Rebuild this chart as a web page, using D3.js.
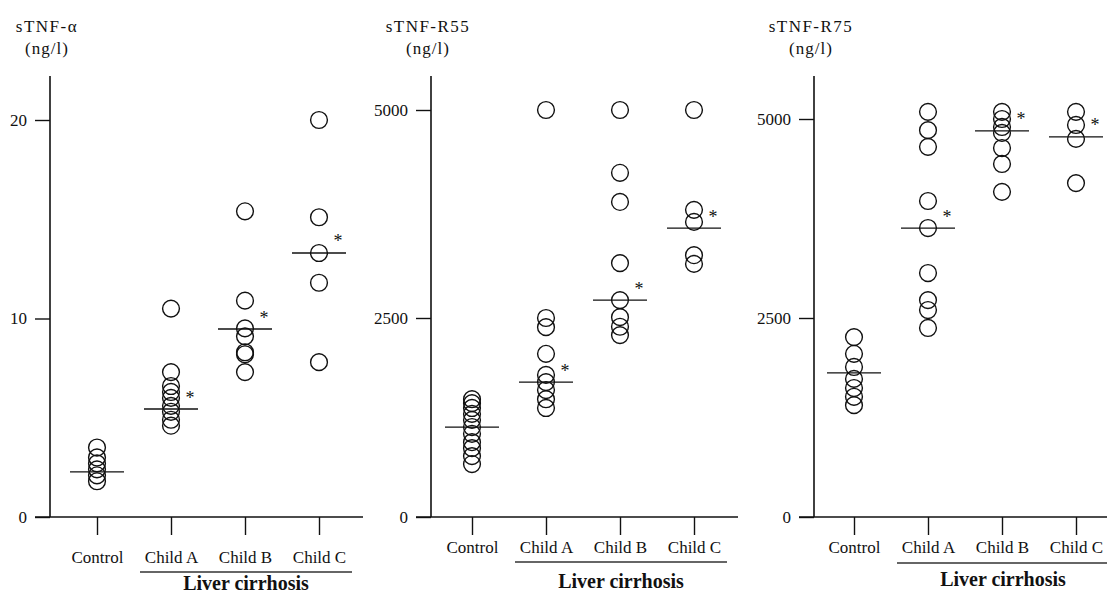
<!DOCTYPE html>
<html>
<head>
<meta charset="utf-8">
<script src="https://cdn.jsdelivr.net/npm/d3@7"></script>
<style>
  body { margin: 0; background: #fff; }
  svg text { font-family: "Liberation Serif", "DejaVu Serif", serif; fill: #111; }
</style>
</head>
<body>
<script>
var width = 1107,
	height = 593;

// groups on the x axis
var categories = ["Control", "Child A", "Child B", "Child C"];

// sTNF-alpha (ng/l)
var tnfControl = [3.5, 3.0, 2.7, 2.4, 2.1, 1.8],
	tnfChildA = [10.5, 7.3, 6.6, 6.3, 6.0, 5.6, 5.3, 4.9, 4.6],
	tnfChildB = [15.4, 10.9, 9.5, 9.1, 8.3, 8.2, 7.3],
	tnfChildC = [20.0, 15.1, 13.3, 11.8, 7.8],
	tnfLine = [2.27, 5.44, 9.47, 13.3],
	tnfTicks = [0, 10, 20];

// sTNF-R55 (ng/l)
var r55Control = [1480, 1430, 1370, 1295, 1220, 1130, 1045, 940, 865, 765, 665],
	r55ChildA = [5000, 2500, 2385, 2050, 1785, 1695, 1595, 1480, 1370],
	r55ChildB = [5000, 4245, 3895, 3160, 2715, 2510, 2390, 2285],
	r55ChildC = [5000, 3800, 3655, 3255, 3150],
	r55Line = [1130, 1695, 2715, 3580],
	r55Ticks = [0, 2500, 5000];

// sTNF-R75 (ng/l)
var r75Control = [2260, 2050, 1885, 1735, 1620, 1510, 1405],
	r75ChildA = [5090, 4860, 4650, 3970, 3630, 3065, 2725, 2600, 2375],
	r75ChildB = [5090, 5000, 4900, 4825, 4635, 4435, 4085],
	r75ChildC = [5090, 4925, 4750, 4195],
	r75Line = [1810, 3630, 4850, 4775],
	r75Ticks = [0, 2500, 5000];

// which groups get the significance mark
var starred = [false, true, true, true];

var ink = "#111";

var svg = d3.select("body")
	.append("svg")
	.attr("width", width)
	.attr("height", height);

// layout of each of the three panels (scanned figure, so axes differ a little)
var panels = [
	{ title: "sTNF-\u03b1", groups: [tnfControl, tnfChildA, tnfChildB, tnfChildC], line: tnfLine, ticks: tnfTicks,
	  ax: 50, x0: 47, yDom: [0, 20], yRng: [517, 120], labPad: 16, underY: 572, footY: 590 },
	{ title: "sTNF-R55", groups: [r55Control, r55ChildA, r55ChildB, r55ChildC], line: r55Line, ticks: r55Ticks,
	  ax: 431, x0: 41, yDom: [0, 2500, 5000], yRng: [517, 318, 110], labPad: 6, underY: 562, footY: 588 },
	{ title: "sTNF-R75", groups: [r75Control, r75ChildA, r75ChildB, r75ChildC], line: r75Line, ticks: r75Ticks,
	  ax: 814, x0: 40, yDom: [0, 5000], yRng: [517, 119], labPad: 6, underY: 563, footY: 586 }
];

var drawPanel = function (p) {
	var g = svg.append("g");
	var y = d3.scaleLinear().domain(p.yDom).range(p.yRng);
	var x = d3.scalePoint().domain(categories).range([p.ax + p.x0, p.ax + p.x0 + 222]);
	var base = y(0);

	// titles
	g.append("text")
		.attr("x", p.ax - 3).attr("y", 32)
		.attr("text-anchor", "middle")
		.style("font-size", "17px").style("letter-spacing", "1.5px")
		.text(p.title);
	g.append("text")
		.attr("x", p.ax - 3).attr("y", 54)
		.attr("text-anchor", "middle")
		.style("font-size", "17px").style("letter-spacing", "1px")
		.text("(ng/l)");

	// y axis
	g.append("line")
		.attr("x1", p.ax).attr("x2", p.ax)
		.attr("y1", 76).attr("y2", base)
		.attr("stroke", ink).attr("stroke-width", 1.6);
	var ya = g.append("g")
		.attr("transform", "translate(" + p.ax + ",0)")
		.call(d3.axisLeft(y).tickValues(p.ticks).tickSize(15).tickPadding(8).tickFormat(d3.format("d")));
	ya.select(".domain").remove();
	ya.selectAll("line").attr("stroke", ink).attr("stroke-width", 1.4);
	ya.selectAll("text").attr("fill", ink).style("font-size", "17px");
	ya.attr("font-family", null).attr("font-size", null);

	// x axis
	g.append("line")
		.attr("x1", p.ax - 15).attr("x2", x(categories[3]) + 44)
		.attr("y1", base).attr("y2", base)
		.attr("stroke", ink).attr("stroke-width", 1.6);
	var xa = g.append("g")
		.attr("transform", "translate(0," + base + ")")
		.call(d3.axisBottom(x).tickSize(18).tickPadding(p.labPad));
	xa.select(".domain").remove();
	xa.selectAll("line").attr("stroke", ink).attr("stroke-width", 1.4);
	xa.selectAll("text").attr("fill", ink).style("font-size", "17px");
	xa.attr("font-family", null).attr("font-size", null);

	// points
	p.groups.forEach(function (vals, i) {
		g.selectAll(null)
			.data(vals)
			.enter().append("circle")
			.attr("cx", x(categories[i]))
			.attr("cy", function (d) { return y(d); })
			.attr("r", 8.4)
			.attr("fill", "none")
			.attr("stroke", ink)
			.attr("stroke-width", 1.4);
	});

	// group lines
	g.selectAll(null)
		.data(p.line)
		.enter().append("line")
		.attr("x1", function (d, i) { return x(categories[i]) - 27; })
		.attr("x2", function (d, i) { return x(categories[i]) + 27; })
		.attr("y1", function (d) { return y(d); })
		.attr("y2", function (d) { return y(d); })
		.attr("stroke", ink)
		.attr("stroke-width", 1.3);

	// asterisks
	g.selectAll(null)
		.data(p.line.filter(function (d, i) { return starred[i]; }))
		.enter().append("text")
		.attr("x", function (d, i) { return x(categories[i + 1]) + 19; })
		.attr("y", function (d) { return y(d) - 14 + 8.5; })
		.attr("text-anchor", "middle")
		.style("font-size", "18px")
		.text("*");

	// liver cirrhosis bracket
	g.append("line")
		.attr("x1", x(categories[1]) - 31).attr("x2", x(categories[3]) + 33)
		.attr("y1", p.underY).attr("y2", p.underY)
		.attr("stroke", "#333").attr("stroke-width", 1.3);
	g.append("text")
		.attr("x", x(categories[2]) + 1).attr("y", p.footY)
		.attr("text-anchor", "middle")
		.style("font-size", "20px").style("font-weight", "bold")
		.text("Liver cirrhosis");
}

panels.forEach(drawPanel);
</script>
</body>
</html>
